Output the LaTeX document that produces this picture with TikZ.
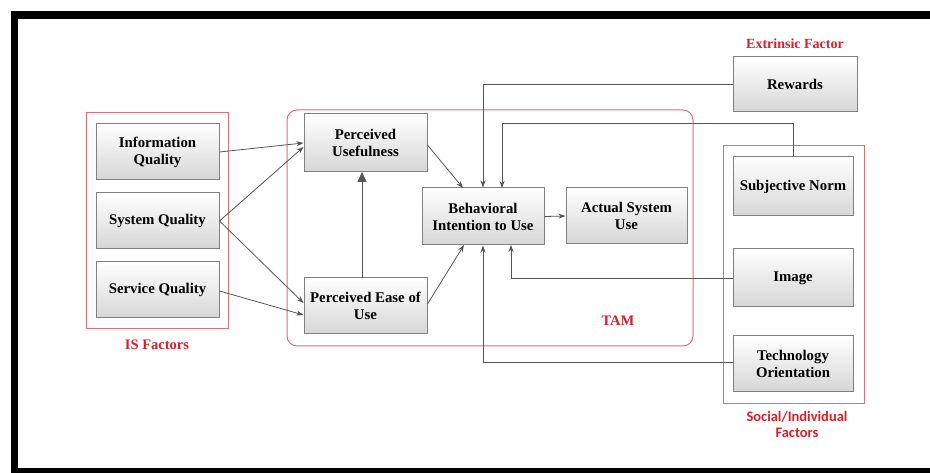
\documentclass[tikz,border=0pt]{standalone}
\usepackage{fontspec}
\setmainfont{Liberation Serif}[BoldFont={Liberation Serif Bold}]
\newfontfamily\tms{Liberation Serif}[BoldFont={Liberation Serif Bold}]
\newfontfamily\calib{Carlito}
\usetikzlibrary{arrows.meta,shadows}
\definecolor{frred}{RGB}{228,110,120}
\definecolor{txred}{RGB}{220,30,40}
\definecolor{lngray}{RGB}{85,85,85}
\definecolor{bxline}{RGB}{128,128,128}
\tikzset{
  box/.style={draw=bxline, line width=1pt, top color=white, bottom color=black!16,
    align=center, font=\tms\fontsize{14.8}{17}\selectfont\bfseries, inner sep=2pt},
  conn/.style={draw=lngray, line width=0.8pt, -{Stealth[length=7pt,width=5pt]}},
  plain/.style={draw=lngray, line width=0.8pt},
  frame/.style={draw=frred, line width=1pt},
  redlbl/.style={text=txred, font=\tms\fontsize{14.5}{16}\selectfont\bfseries},
}
\begin{document}
\begin{tikzpicture}[x=1pt,y=-1pt]
\useasboundingbox (0,0) rectangle (930,473);
\fill[white] (0,0) rectangle (930,473);
% black frame
\fill[black] (11,11) rectangle (930,19);
\fill[black] (11,11) rectangle (18,473);
\fill[black] (11,468) rectangle (930,473);

% red group frames
\draw[frame] (86,113) rectangle (228,329);
\draw[frame, rounded corners=10pt] (287,110) rectangle (693,346);
\draw[frame] (723,146) rectangle (864,403);

% boxes
\node[box, minimum width=123pt, minimum height=56pt] (iq) at (157.5,152) {Information\\Quality};
\node[box, minimum width=123pt, minimum height=56pt] (sq) at (157.5,221) {System Quality};
\node[box, minimum width=123pt, minimum height=56pt] (svq) at (157.5,290) {Service Quality};
\node[box, minimum width=123pt, minimum height=58pt] (pu) at (365.5,143) {Perceived\\Usefulness};
\node[box, minimum width=123pt, minimum height=56pt] (peou) at (365.5,306) {Perceived Ease of\\Use};
\node[box, minimum width=122pt, minimum height=57pt] (bi) at (483,216.5) {Behavioral\\Intention to Use};
\node[box, minimum width=121pt, minimum height=56pt] (asu) at (626.5,216) {Actual System\\Use};
\node[box, minimum width=124pt, minimum height=55pt] (rew) at (795,84.5) {Rewards};
\node[box, minimum width=120pt, minimum height=59pt] (sn) at (793,186.5) {Subjective Norm};
\node[box, minimum width=120pt, minimum height=58pt] (img) at (793,278) {Image};
\node[box, minimum width=120pt, minimum height=55pt] (tech) at (793,363.5) {Technology\\Orientation};

% labels
\node[redlbl] (lis) at (157,345) {IS Factors};
\node[redlbl] (ltam) at (618,321) {TAM};
\node[redlbl, font=\tms\fontsize{14}{14}\selectfont\bfseries] (lext) at (795,44) {Extrinsic Factor};
\node[text=txred, font=\calib\fontsize{14.5}{16}\selectfont\bfseries, align=center] (lsoc) at (797,424) {Social/Individual\\Factors};

% connectors
\draw[conn] (iq.east |- 0,152) -- (pu.west |- 0,143);
\draw[conn] (sq.east) -- (pu.west |- 0,147);
\draw[conn] (sq.east) -- (peou.west |- 0,303);
\draw[conn] (svq.east |- 0,291) -- (peou.west |- 0,315);
\draw[conn] (pu.east |- 0,145) -- (463,188);
\draw[conn] (peou.east |- 0,304) -- (464,245);
\draw[draw=lngray, line width=0.8pt, -{Triangle[length=10pt,width=9pt]}] (362,278) -- (362,172);
\draw[conn] (bi.east) -- (asu.west);

\draw[conn] (rew.west) -- (483,84.5) -- (bi.north);
\draw[conn] (sn.north) -- (793,123) -- (502,123) -- (502,188);
\draw[conn] (img.west) -- (511,278) -- (511,245);
\draw[conn] (tech.west |- 0,362) -- (483,362) -- (bi.south);
\end{tikzpicture}
\end{document}
